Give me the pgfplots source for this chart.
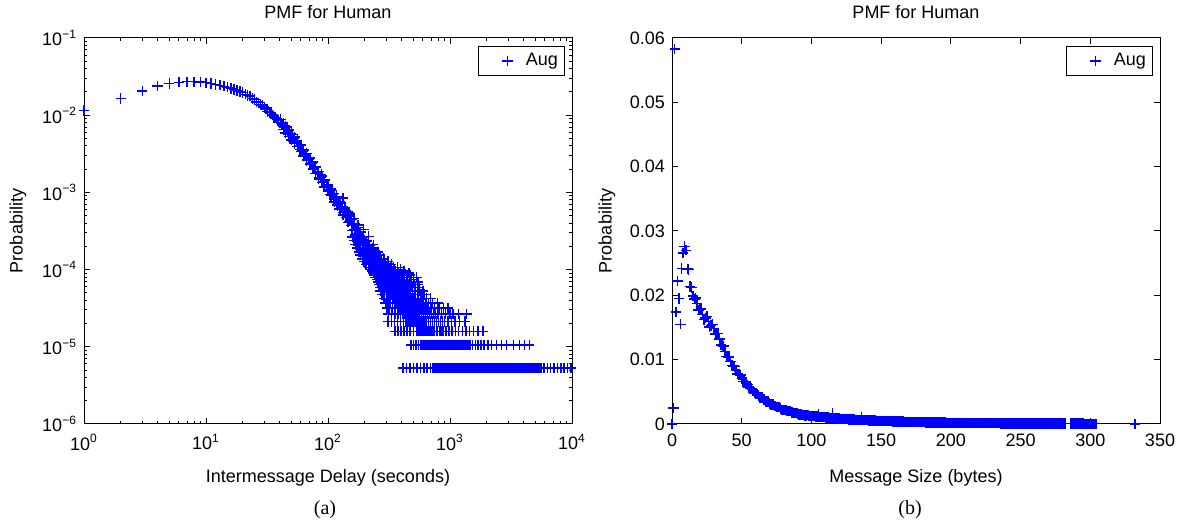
\documentclass[border=0pt]{standalone}
\usepackage{fontspec}
\setmainfont{Liberation Sans}
\newfontfamily\seriffont{Liberation Serif}
\usepackage{pgfplots}
\pgfplotsset{compat=1.18}
\definecolor{mblue}{RGB}{0,0,255}
\newcommand{\fnt}{\fontsize{9}{11}\selectfont}
\pgfplotsset{
  pmf/.style={only marks, mark=+, mark size=2.6pt, color=mblue,
    mark options={line width=0.7pt, draw=mblue, solid}},
  matfig/.style={
    scale only axis, width=244pt, height=193pt, clip=false,
    anchor=south west,
    axis line style={line width=0.5pt, black},
    tick style={line width=0.5pt, black},
    major tick length=2.8pt, minor tick length=1.6pt,
    tick align=inside, xtick pos=both, ytick pos=both,
    ticklabel style={font=\fnt},
    xticklabel style={yshift=-1.5pt},
    scaled ticks=false,
    legend style={at={(1,1)}, anchor=north east, xshift=-3.75pt, yshift=-4pt,
      draw=black, line width=0.5pt, inner xsep=1pt, inner ysep=1.5pt,
      font=\fnt},
    legend image code/.code={
      \path (0pt,0pt) (20pt,0pt);
      \draw[mark repeat=2,mark phase=2,##1] plot coordinates {(0pt,0pt) (13pt,0pt) (20pt,0pt)};},
  },
}
\begin{document}
\begin{tikzpicture}
\useasboundingbox (0pt,0pt) rectangle (590.5pt,261pt);

% ---------------- (a) intermessage delay ----------------
\begin{axis}[matfig, at={(42pt,49pt)},
  xmode=log, ymode=log,
  xmin=1, xmax=10000, ymin=1e-6, ymax=0.1,
  xtick={1,10,100,1000,10000},
  xticklabels={10\textsuperscript{0},10\textsuperscript{1},10\textsuperscript{2},10\textsuperscript{3},10\textsuperscript{4}},
  ytick={1e-6,1e-5,1e-4,1e-3,1e-2,1e-1},
  yticklabels={10\textsuperscript{−6},10\textsuperscript{−5},10\textsuperscript{−4},10\textsuperscript{−3},10\textsuperscript{−2},10\textsuperscript{−1}},
  minor xtick={2,3,4,5,6,7,8,9,20,30,40,50,60,70,80,90,200,300,400,500,600,700,800,900,2000,3000,4000,5000,6000,7000,8000,9000},
  minor ytick={2e-6,3e-6,4e-6,5e-6,6e-6,7e-6,8e-6,9e-6,2e-5,3e-5,4e-5,5e-5,6e-5,7e-5,8e-5,9e-5,2e-4,3e-4,4e-4,5e-4,6e-4,7e-4,8e-4,9e-4,2e-3,3e-3,4e-3,5e-3,6e-3,7e-3,8e-3,9e-3,2e-2,3e-2,4e-2,5e-2,6e-2,7e-2,8e-2,9e-2},
]
\addplot[pmf] coordinates {(1,0.0115) (2,0.0165) (3,0.0205) (4,0.024) (5,0.0257) (6,0.0267) (7,0.0271) (8,0.0271) (9,0.0268) (10,0.0263) (11,0.0257) (12,0.0251) (13,0.0244) (14,0.0237) (15,0.023) (16,0.0223) (17,0.0216) (18,0.0209) (19,0.0202) (20,0.0196)};
\addlegendentry{Aug}
% main body of the curve
\addplot[pmf,forget plot] coordinates {(21,0.0187) (22,0.0179) (24,0.0165) (25,0.0159) (27,0.0145) (28,0.0138) (30,0.0127) (31,0.0121) (33,0.011) (35,0.01) (37,0.0092) (39,0.0085) (42,0.0075) (44,0.0069) (47,0.0061) (49,0.0056) (52,0.005) (55,0.0045) (58,0.004) (62,0.0034) (65,0.0031) (69,0.0027) (73,0.0024) (77,0.0021) (82,0.0018) (87,0.00157) (92,0.00139) (97,0.00123) (103,0.00107) (109,0.00094) (115,0.00083) (122,0.00072) (129,0.00064) (136,0.00056) (144,0.00049) (152,0.00044) (161,0.00038) (170,0.00034) (180,0.0003) (191,0.00026) (202,0.00023) (213,0.0002) (225,0.00018) (238,0.000155) (252,0.000136) (267,0.000119) (282,0.000105) (299,0.000092) (316,0.000081) (335,0.000071)
 (23,0.0178) (26,0.0148) (29,0.0136) (32,0.0112) (34,0.0108) (36,0.0093) (38,0.009)};
% spread around the curve
\addplot[pmf,forget plot] coordinates {(41,0.0088) (43,0.0071) (46,0.007) (48,0.0056) (51,0.0056) (53,0.0045) (56,0.0047) (59,0.0036) (63,0.0035) (67,0.0026) (71,0.0028) (75,0.002) (79,0.0021) (84,0.00148) (88,0.0017) (93,0.00118) (99,0.00127) (104,0.00094) (108,0.00106) (113,0.00075) (118,0.00088) (124,0.00061) (127,0.00074) (133,0.00051) (138,0.00063) (146,0.00041) (149,0.00054) (157,0.00032) (163,0.00046) (168,0.00028) (176,0.00038) (185,0.00021) (195,0.00033) (205,0.00017) (215,0.00027) (222,0.00014) (235,0.00021) (245,0.00011) (258,0.00017) (275,0.00009) (285,0.00014) (300,0.000075) (310,0.00012) (145,0.00056) (120,0.00068) (100,0.00105) (133,0.00085)
 (43,0.0079) (45,0.0059) (48,0.0064) (50,0.0048) (53,0.0052) (56,0.0039) (60,0.0041) (63,0.00296) (67,0.0032) (71,0.00232) (75,0.00247) (79,0.00177) (84,0.00185) (89,0.00134) (94,0.00144) (100,0.00104) (106,0.0011) (112,0.000804) (118,0.00085) (125,0.000618) (132,0.000659) (140,0.000477) (148,0.000511) (156,0.000372) (165,0.000395) (175,0.00029) (185,0.000307) (196,0.000223) (207,0.000236) (219,0.000173) (231,0.000184) (245,0.000132) (259,0.00014) (274,0.000102) (290,0.000108) (307,0.0000785)
 (43,0.00654) (45,0.00714) (48,0.00531) (50,0.00582) (53,0.00431) (56,0.00466) (60,0.00336) (63,0.00358) (67,0.00263) (71,0.0028) (75,0.00204) (79,0.00213) (84,0.00153) (89,0.00163) (94,0.00119) (100,0.00127) (106,0.00091) (112,0.000971) (118,0.000703) (125,0.000747) (132,0.000545) (140,0.000576) (148,0.000422) (156,0.00045) (165,0.000327) (175,0.000351) (185,0.000254) (196,0.00027) (207,0.000195) (219,0.000209) (231,0.000152) (245,0.00016) (259,0.000116) (274,0.000123) (290,0.0000895) (307,0.0000949)};
% counts 50 down to 11
\addplot[pmf,forget plot] coordinates {(158,2.65e-4) (166,2.65e-4) (174,2.65e-4) (183,2.65e-4) (192,2.65e-4)
 (163,2.385e-4) (171,2.385e-4) (179,2.385e-4) (188,2.385e-4) (198,2.385e-4)
 (168,2.12e-4) (176,2.12e-4) (184,2.12e-4) (193,2.12e-4) (202,2.12e-4) (213,2.12e-4)
 (173,1.908e-4) (182,1.908e-4) (191,1.908e-4) (200,1.908e-4) (209,1.908e-4) (219,1.908e-4) (232,1.908e-4)
 (179,1.696e-4) (188,1.696e-4) (197,1.696e-4) (206,1.696e-4) (215,1.696e-4) (225,1.696e-4) (236,1.696e-4) (250,1.696e-4)
 (185,1.537e-4) (194,1.537e-4) (203,1.537e-4) (212,1.537e-4) (221,1.537e-4) (230,1.537e-4) (240,1.537e-4) (252,1.537e-4) (265,1.537e-4)
 (192,1.378e-4) (201,1.378e-4) (210,1.378e-4) (219,1.378e-4) (228,1.378e-4) (237,1.378e-4) (247,1.378e-4) (258,1.378e-4) (271,1.378e-4) (285,1.378e-4)
 (198,1.272e-4) (207,1.272e-4) (216,1.272e-4) (225,1.272e-4) (234,1.272e-4) (243,1.272e-4) (253,1.272e-4) (264,1.272e-4) (276,1.272e-4) (290,1.272e-4) (310,1.272e-4)
 (205,1.166e-4) (214,1.166e-4) (223,1.166e-4) (232,1.166e-4) (241,1.166e-4) (250,1.166e-4) (260,1.166e-4) (271,1.166e-4) (283,1.166e-4) (296,1.166e-4) (310,1.166e-4) (330,1.166e-4)
 (218,1.06e-4) (228,1.06e-4) (238,1.06e-4) (248,1.06e-4) (257,1.06e-4) (266,1.06e-4) (276,1.06e-4) (287,1.06e-4) (299,1.06e-4) (312,1.06e-4) (327,1.06e-4) (345,1.06e-4) (370,1.06e-4)
 (225,1.007e-4) (235,1.007e-4) (245,1.007e-4) (255,1.007e-4) (264,1.007e-4) (273,1.007e-4) (283,1.007e-4) (294,1.007e-4) (306,1.007e-4) (319,1.007e-4) (333,1.007e-4) (350,1.007e-4) (370,1.007e-4) (395,1.007e-4)
 (230,9.54e-5) (240,9.54e-5) (250,9.54e-5) (260,9.54e-5) (269,9.54e-5) (278,9.54e-5) (288,9.54e-5) (299,9.54e-5) (311,9.54e-5) (324,9.54e-5) (338,9.54e-5) (354,9.54e-5) (372,9.54e-5) (395,9.54e-5) (420,9.54e-5)
 (235,9.01e-5) (245,9.01e-5) (255,9.01e-5) (265,9.01e-5) (274,9.01e-5) (284,9.01e-5) (294,9.01e-5) (305,9.01e-5) (317,9.01e-5) (330,9.01e-5) (344,9.01e-5) (359,9.01e-5) (376,9.01e-5) (395,9.01e-5) (420,9.01e-5) (460,9.01e-5)
 (240,8.48e-5) (250,8.48e-5) (260,8.48e-5) (270,8.48e-5) (280,8.48e-5) (290,8.48e-5) (300,8.48e-5) (311,8.48e-5) (323,8.48e-5) (336,8.48e-5) (350,8.48e-5) (365,8.48e-5) (382,8.48e-5) (400,8.48e-5) (420,8.48e-5) (445,8.48e-5) (470,8.48e-5)
 (246,7.95e-5) (256,7.95e-5) (266,7.95e-5) (276,7.95e-5) (286,7.95e-5) (296,7.95e-5) (306,7.95e-5) (317,7.95e-5) (329,7.95e-5) (342,7.95e-5) (356,7.95e-5) (371,7.95e-5) (388,7.95e-5) (405,7.95e-5) (425,7.95e-5) (450,7.95e-5) (480,7.95e-5) (530,7.95e-5)
 (251,7.42e-5) (261,7.42e-5) (271,7.42e-5) (281,7.42e-5) (291,7.42e-5) (301,7.42e-5) (311,7.42e-5) (321,7.42e-5) (332,7.42e-5) (344,7.42e-5) (357,7.42e-5) (371,7.42e-5) (386,7.42e-5) (403,7.42e-5) (422,7.42e-5) (445,7.42e-5) (470,7.42e-5) (500,7.42e-5)
 (256,6.89e-5) (266,6.89e-5) (276,6.89e-5) (286,6.89e-5) (296,6.89e-5) (306,6.89e-5) (316,6.89e-5) (327,6.89e-5) (338,6.89e-5) (350,6.89e-5) (362,6.89e-5) (375,6.89e-5) (390,6.89e-5) (406,6.89e-5) (424,6.89e-5) (445,6.89e-5) (470,6.89e-5) (500,6.89e-5) (545,6.89e-5)
 (262,6.36e-5) (272,6.36e-5) (282,6.36e-5) (292,6.36e-5) (302,6.36e-5) (312,6.36e-5) (322,6.36e-5) (332,6.36e-5) (345,6.36e-5) (358,6.36e-5) (372,6.36e-5) (386,6.36e-5) (401,6.36e-5) (417,6.36e-5) (435,6.36e-5) (455,6.36e-5) (480,6.36e-5) (510,6.36e-5) (545,6.36e-5)
 (268,5.83e-5) (278,5.83e-5) (288,5.83e-5) (298,5.83e-5) (308,5.83e-5) (318,5.83e-5) (328,5.83e-5) (341,5.83e-5) (354,5.83e-5) (368,5.83e-5) (382,5.83e-5) (397,5.83e-5) (412,5.83e-5) (428,5.83e-5) (445,5.83e-5) (465,5.83e-5) (490,5.83e-5) (520,5.83e-5) (560,5.83e-5)};
% counts 10 down to 4
\addplot[pmf,forget plot] coordinates {(270,5.3e-5) (280,5.3e-5) (290,5.3e-5) (300,5.3e-5) (310,5.3e-5) (320,5.3e-5) (331,5.3e-5) (342,5.3e-5) (353,5.3e-5) (365,5.3e-5) (377,5.3e-5) (390,5.3e-5) (404,5.3e-5) (419,5.3e-5) (435,5.3e-5) (452,5.3e-5) (471,5.3e-5) (492,5.3e-5) (520,5.3e-5) (560,5.3e-5) (600,5.3e-5)
 (278,4.77e-5) (289,4.77e-5) (300,4.77e-5) (311,4.77e-5) (322,4.77e-5) (333,4.77e-5) (344,4.77e-5) (355,4.77e-5) (367,4.77e-5) (379,4.77e-5) (392,4.77e-5) (406,4.77e-5) (421,4.77e-5) (437,4.77e-5) (454,4.77e-5) (472,4.77e-5) (492,4.77e-5) (515,4.77e-5) (545,4.77e-5) (580,4.77e-5) (620,4.77e-5)
 (288,4.24e-5) (300,4.24e-5) (312,4.24e-5) (324,4.24e-5) (336,4.24e-5) (348,4.24e-5) (360,4.24e-5) (372,4.24e-5) (385,4.24e-5) (400,4.24e-5) (415,4.24e-5) (432,4.24e-5) (449,4.24e-5) (466,4.24e-5) (484,4.24e-5) (503,4.24e-5) (523,4.24e-5) (545,4.24e-5) (570,4.24e-5) (600,4.24e-5) (640,4.24e-5) (690,4.24e-5)
 (296,3.71e-5) (310,3.71e-5) (323,3.71e-5) (336,3.71e-5) (350,3.71e-5) (364,3.71e-5) (378,3.71e-5) (393,3.71e-5) (408,3.71e-5) (424,3.71e-5) (441,3.71e-5) (458,3.71e-5) (476,3.71e-5) (494,3.71e-5) (514,3.71e-5) (534,3.71e-5) (555,3.71e-5) (577,3.71e-5) (600,3.71e-5) (630,3.71e-5) (670,3.71e-5) (720,3.71e-5) (790,3.71e-5)
 (305,3.18e-5) (320,3.18e-5) (337,3.18e-5) (355,3.18e-5) (372,3.18e-5) (387,3.18e-5) (402,3.18e-5) (418,3.18e-5) (434,3.18e-5) (451,3.18e-5) (469,3.18e-5) (487,3.18e-5) (506,3.18e-5) (526,3.18e-5) (546,3.18e-5) (568,3.18e-5) (590,3.18e-5) (613,3.18e-5) (637,3.18e-5) (662,3.18e-5) (700,3.18e-5) (750,3.18e-5) (810,3.18e-5) (880,3.18e-5) (960,3.18e-5)
 (312,2.65e-5) (333,2.65e-5) (355,2.65e-5) (375,2.65e-5) (395,2.65e-5) (412,2.65e-5) (428,2.65e-5) (445,2.65e-5) (462,2.65e-5) (480,2.65e-5) (499,2.65e-5) (518,2.65e-5) (538,2.65e-5) (559,2.65e-5) (581,2.65e-5) (604,2.65e-5) (627,2.65e-5) (652,2.65e-5) (677,2.65e-5) (703,2.65e-5) (731,2.65e-5) (760,2.65e-5) (800,2.65e-5) (850,2.65e-5) (920,2.65e-5) (1000,2.65e-5) (1060,2.65e-5) (1180,2.65e-5) (1370,2.65e-5)
 (310,2.12e-5) (330,2.12e-5) (350,2.12e-5) (372,2.12e-5) (395,2.12e-5) (415,2.12e-5) (435,2.12e-5) (452,2.12e-5) (470,2.12e-5) (488,2.12e-5) (507,2.12e-5) (527,2.12e-5) (548,2.12e-5) (569,2.12e-5) (591,2.12e-5) (614,2.12e-5) (638,2.12e-5) (663,2.12e-5) (689,2.12e-5) (716,2.12e-5) (744,2.12e-5) (773,2.12e-5) (803,2.12e-5) (834,2.12e-5) (867,2.12e-5) (901,2.12e-5) (960,2.12e-5) (1030,2.12e-5) (1100,2.12e-5) (1200,2.12e-5) (1330,2.12e-5)};
% count 3
\addplot[pmf,forget plot] coordinates {(354,1.59e-5) (375,1.59e-5) (398,1.59e-5) (420,1.59e-5) (445,1.59e-5) (470,1.59e-5) (500,1.59e-5) (533,1.59e-5) (548,1.59e-5) (564,1.59e-5) (580,1.59e-5) (597,1.59e-5) (614,1.59e-5) (632,1.59e-5) (650,1.59e-5) (669,1.59e-5) (688,1.59e-5) (708,1.59e-5) (728,1.59e-5) (749,1.59e-5) (771,1.59e-5) (793,1.59e-5) (816,1.59e-5) (839,1.59e-5) (863,1.59e-5) (888,1.59e-5) (914,1.59e-5) (940,1.59e-5) (967,1.59e-5) (995,1.59e-5) (1023,1.59e-5) (1053,1.59e-5) (1110,1.59e-5) (1180,1.59e-5) (1260,1.59e-5) (1350,1.59e-5) (1450,1.59e-5) (1560,1.59e-5) (1700,1.59e-5) (1864,1.59e-5)};
% count 2
\addplot[pmf,forget plot] coordinates {(479,1.06e-5) (500,1.06e-5) (525,1.06e-5) (550,1.06e-5) (573,1.06e-5) (589,1.06e-5) (606,1.06e-5) (624,1.06e-5) (642,1.06e-5) (660,1.06e-5) (679,1.06e-5) (699,1.06e-5) (719,1.06e-5) (739,1.06e-5) (761,1.06e-5) (782,1.06e-5) (805,1.06e-5) (828,1.06e-5) (852,1.06e-5) (876,1.06e-5) (901,1.06e-5) (927,1.06e-5) (954,1.06e-5) (981,1.06e-5) (1009,1.06e-5) (1038,1.06e-5) (1068,1.06e-5) (1099,1.06e-5) (1130,1.06e-5) (1163,1.06e-5) (1196,1.06e-5) (1231,1.06e-5) (1266,1.06e-5) (1302,1.06e-5) (1340,1.06e-5) (1378,1.06e-5) (1418,1.06e-5) (1458,1.06e-5) (1530,1.06e-5) (1620,1.06e-5) (1700,1.06e-5) (1790,1.06e-5) (1900,1.06e-5) (2050,1.06e-5) (2200,1.06e-5) (2400,1.06e-5) (2650,1.06e-5) (2900,1.06e-5) (3300,1.06e-5) (3700,1.06e-5) (4100,1.06e-5) (4465,1.06e-5)};
% count 1
\addplot[pmf,forget plot] coordinates {(412,5.3e-6) (440,5.3e-6) (470,5.3e-6) (500,5.3e-6) (535,5.3e-6) (570,5.3e-6) (610,5.3e-6) (650,5.3e-6) (690,5.3e-6) (725,5.3e-6) (746,5.3e-6) (767,5.3e-6) (789,5.3e-6) (812,5.3e-6) (835,5.3e-6) (859,5.3e-6) (884,5.3e-6) (909,5.3e-6) (935,5.3e-6) (962,5.3e-6) (990,5.3e-6) (1018,5.3e-6) (1047,5.3e-6) (1077,5.3e-6) (1108,5.3e-6) (1140,5.3e-6) (1173,5.3e-6) (1207,5.3e-6) (1241,5.3e-6) (1277,5.3e-6) (1314,5.3e-6) (1351,5.3e-6) (1390,5.3e-6) (1430,5.3e-6) (1471,5.3e-6) (1513,5.3e-6) (1557,5.3e-6) (1602,5.3e-6) (1648,5.3e-6) (1695,5.3e-6) (1744,5.3e-6) (1794,5.3e-6) (1845,5.3e-6) (1898,5.3e-6) (1953,5.3e-6) (2009,5.3e-6) (2066,5.3e-6) (2126,5.3e-6) (2187,5.3e-6) (2250,5.3e-6) (2314,5.3e-6) (2381,5.3e-6) (2449,5.3e-6) (2519,5.3e-6) (2592,5.3e-6) (2666,5.3e-6) (2743,5.3e-6) (2821,5.3e-6) (2902,5.3e-6) (2986,5.3e-6) (3071,5.3e-6) (3160,5.3e-6) (3250,5.3e-6) (3344,5.3e-6) (3440,5.3e-6) (3538,5.3e-6) (3640,5.3e-6) (3745,5.3e-6) (3852,5.3e-6) (3963,5.3e-6) (4076,5.3e-6) (4193,5.3e-6) (4314,5.3e-6) (4438,5.3e-6) (4565,5.3e-6) (4696,5.3e-6) (4831,5.3e-6) (4970,5.3e-6) (5112,5.3e-6) (5259,5.3e-6) (5410,5.3e-6) (5566,5.3e-6) (5900,5.3e-6) (6300,5.3e-6) (6700,5.3e-6) (7100,5.3e-6) (7600,5.3e-6) (8100,5.3e-6) (8600,5.3e-6) (9200,5.3e-6) (9800,5.3e-6)};
\node[font=\fnt, anchor=base] at ([yshift=9.5pt]rel axis cs:0.5,1) {PMF for Human};
\node[font=\fnt, anchor=base] at ([yshift=-29.5pt]rel axis cs:0.5,0) {Intermessage Delay (seconds)};
\node[font=\fnt, rotate=90] at ([xshift=-33pt]rel axis cs:0,0.5) {Probability};
\end{axis}

% ---------------- (b) message size ----------------
\begin{axis}[matfig, at={(336pt,49pt)},
  xmin=0, xmax=350, ymin=0, ymax=0.06,
  xtick={0,50,100,150,200,250,300,350},
  xticklabels={0,50,100,150,200,250,300,350},
  ytick={0,0.01,0.02,0.03,0.04,0.05,0.06},
  yticklabels={0,0.01,0.02,0.03,0.04,0.05,0.06},
]
\addplot[pmf] coordinates {(0,0) (1,0.0025) (2,0.0583) (3,0.0174) (4,0.0222) (5,0.0195) (6,0.0155) (7,0.0242) (8,0.0266) (9,0.0276) (10,0.027) (11,0.0241) (12,0.024) (13,0.0214) (14,0.0212) (15,0.0199)};
\addlegendentry{Aug}
\addplot[pmf,forget plot] coordinates {(16,0.0194) (18,0.0187) (20,0.0178) (22,0.017) (24,0.0165) (26,0.0159) (28,0.0153) (30,0.0148) (32,0.0141) (34,0.0132) (36,0.0122) (38,0.0113) (40,0.0104) (42,0.0097) (44,0.009) (46,0.0083) (48,0.0077) (50,0.0071) (52,0.0066) (54,0.0061) (56,0.0056) (58,0.0051) (60,0.0047) (62,0.0044) (64,0.0041) (66,0.0038) (68,0.0035) (70,0.0032) (72,0.003) (74,0.0028) (76,0.0026) (78,0.0024) (80,0.0022) (82,0.0021) (84,0.002) (86,0.0018) (88,0.0017) (90,0.0016) (92,0.0015) (94,0.0014) (96,0.00135) (98,0.0013)
 (17,0.0196) (19,0.0177) (21,0.0179) (23,0.0162) (25,0.0167) (27,0.0151) (29,0.0155) (31,0.014) (33,0.0141) (35,0.0123) (37,0.0121) (39,0.0105) (41,0.0104) (43,0.0091) (45,0.0089) (47,0.0078) (49,0.0076) (51,0.0066) (53,0.0065) (55,0.0057) (57,0.0055) (59,0.0048) (61,0.0047) (63,0.0041) (65,0.0041) (67,0.0035) (69,0.0035) (71,0.003) (73,0.003) (75,0.0026) (77,0.0026) (79,0.0022) (81,0.0022) (83,0.002) (85,0.002) (87,0.0017) (89,0.0017) (91,0.0015) (93,0.0015) (95,0.0013) (97,0.0014) (99,0.0012)};
\addplot[pmf,forget plot] coordinates {(100,0.00125) (101,0.00122) (102,0.0012) (103,0.00118) (104,0.00115) (105,0.00113) (106,0.00111) (107,0.00109) (108,0.00107) (109,0.00105) (110,0.00103)
 (111,0.00101) (112,0.00099) (113,0.00097) (114,0.00095) (115,0.00093) (116,0.00091) (117,0.00089) (118,0.00087) (119,0.00085) (120,0.00083)
 (121,0.00081) (122,0.00079) (123,0.00078) (124,0.00076) (125,0.00075) (126,0.00073) (127,0.00072) (128,0.00071) (129,0.00069) (130,0.00068)
 (131,0.00067) (132,0.00066) (133,0.00065) (134,0.00064) (135,0.00063) (136,0.00062) (137,0.00061) (138,0.0006) (139,0.00059) (140,0.00058)
 (141,0.00057) (142,0.00056) (143,0.00055) (144,0.00054) (145,0.00053) (146,0.00052) (147,0.00051) (148,0.0005) (149,0.00049) (150,0.00048)
 (151,0.00047) (152,0.00046) (153,0.00045) (154,0.00045) (155,0.00044) (156,0.00043) (157,0.00042) (158,0.00041) (159,0.00041) (160,0.0004)
 (161,0.00039) (162,0.00038) (163,0.00038) (164,0.00037) (165,0.00036) (166,0.00036) (167,0.00035) (168,0.00034) (169,0.00034) (170,0.00033)
 (171,0.00032) (172,0.00032) (173,0.00031) (174,0.0003) (175,0.0003) (176,0.00029) (177,0.00028) (178,0.00028) (179,0.00027) (180,0.00027)
 (181,0.00027) (182,0.00026) (183,0.00025) (184,0.00025) (185,0.00025) (186,0.00024) (187,0.00024) (188,0.00023) (189,0.00023) (190,0.00023)
 (191,0.00022) (192,0.00022) (193,0.00022) (194,0.00021) (195,0.00021) (196,0.00021) (197,0.0002) (198,0.0002) (199,0.0002) (200,0.0002)
 (201,0.00019) (202,0.00019) (203,0.00019) (204,0.00018) (205,0.00018) (206,0.00018) (207,0.00017) (208,0.00017) (209,0.00017) (210,0.00016)
 (211,0.00016) (212,0.00016) (213,0.00015) (214,0.00015) (215,0.00015) (216,0.00014) (217,0.00014) (218,0.00014) (219,0.00014) (220,0.00014)
 (221,0.00013) (222,0.00013) (223,0.00013) (224,0.00013) (225,0.00012) (226,0.00012) (227,0.00012) (228,0.00012) (229,0.00012) (230,0.00011)
 (231,0.00011) (232,0.00011) (233,0.00011) (234,0.00011) (235,0.00011) (236,0.0001) (237,0.0001) (238,0.0001) (239,0.0001) (240,0.0001)
 (241,0.0001) (242,0.00009) (243,0.00009) (244,0.00009) (245,0.00009) (246,0.00009) (247,0.00009) (248,0.00009) (249,0.00009) (250,0.00009)
 (251,0.00008) (252,0.00008) (253,0.00008) (254,0.00008) (255,0.00008) (256,0.00008) (257,0.00008) (258,0.00008) (259,0.00008) (260,0.00008)
 (261,0.00007) (262,0.00007) (263,0.00007) (264,0.00007) (265,0.00007) (266,0.00007) (267,0.00007) (268,0.00007) (269,0.00007) (270,0.00007)
 (271,0.00006) (272,0.00006) (273,0.00006) (274,0.00006) (275,0.00006) (276,0.00006) (277,0.00006) (278,0.00006) (279,0.00006) (280,0.00006) (281,0.00006) (282,0.00006)
 (286,0.00005) (287,0.00005) (288,0.00005) (289,0.00005) (290,0.00005) (291,0.00005) (292,0.00005) (293,0.00005) (294,0.00005) (295,0.00005)
 (296,0.00004) (297,0.00004) (298,0.00004) (299,0.00004) (300,0.00004) (301,0.00004) (302,0.00004) (303,0.00004) (304,0.00004)
 (332,0.00002) (105,0.0015) (115,0.0016) (136,0.0011)};
\node[font=\fnt, anchor=base] at ([yshift=9.5pt]rel axis cs:0.5,1) {PMF for Human};
\node[font=\fnt, anchor=base] at ([yshift=-29.5pt]rel axis cs:0.5,0) {Message Size (bytes)};
\node[font=\fnt, rotate=90] at ([xshift=-32.5pt]rel axis cs:0,0.5) {Probability};
\end{axis}

\node[font=\seriffont\fontsize{10}{12}\selectfont, anchor=base] at (162.5pt,3.5pt) {(a)};
\node[font=\seriffont\fontsize{10}{12}\selectfont, anchor=base] at (455pt,3.5pt) {(b)};
\end{tikzpicture}
\end{document}
